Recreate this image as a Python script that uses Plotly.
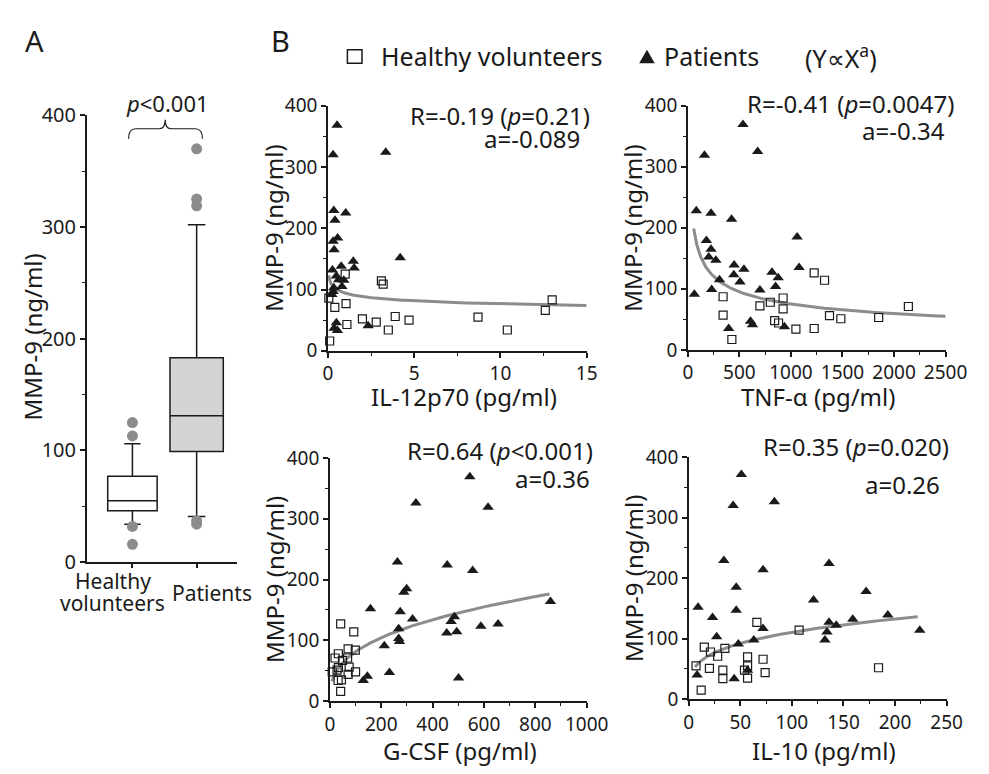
import plotly.graph_objects as go

W, H = 989, 774

# ---- Panel A: box plot summary (MMP-9, ng/ml) ----
box_groups = ["Healthy volunteers", "Patients"]
box_q1 = [46, 99]
box_median = [55, 131]
box_q3 = [77, 183]
box_low = [34, 41]
box_high = [106, 302]
healthy_outliers = [125, 113, 32, 16]
patient_outliers = [370, 325, 319, 37, 34]

# ---- Panel B: scatter data (x = cytokine, y = MMP-9) ----
il12_hv_x = [0.1, 0.05, 0.4, 1.0, 1.05, 1.1, 2.0, 2.8, 3.1, 3.2, 3.5, 3.9, 4.7, 8.7, 10.4, 12.6, 13.0]
il12_hv_y = [16, 86, 71, 125, 77, 43, 52, 47, 114, 109, 34, 56, 50, 55, 34, 66, 83]
il12_pt_x = [0.53, 0.3, 3.35, 0.34, 0.41, 1.03, 0.3, 0.56, 0.36, 4.19, 1.47, 1.52, 0.77,
             0.26, 0.49, 0.62, 0.92, 0.81, 0.34, 0.3, 0.23, 0.49, 0.36, 0.55, 2.33]
il12_pt_y = [368, 320, 324, 229, 213, 225, 179, 184, 165, 152, 146, 135, 138,
             132, 122, 116, 115, 105, 103, 97, 92, 46, 37, 33, 41]

tnf_hv_x = [342, 342, 427, 699, 800, 924, 924, 842, 880, 1048, 1225, 1225, 1326, 1374, 1484, 1851, 2139]
tnf_hv_y = [87, 57, 17, 72, 78, 85, 67, 48, 44, 34, 126, 35, 114, 56, 51, 53, 71]
tnf_pt_x = [63, 82, 161, 180, 203, 225, 225, 231, 272, 307, 449, 446, 506, 544, 424,
            396, 535, 677, 699, 608, 627, 816, 851, 876, 937, 1060, 1079]
tnf_pt_y = [91, 228, 319, 179, 152, 165, 224, 99, 147, 115, 139, 123, 111, 132, 214,
            35, 369, 325, 98, 47, 41, 127, 104, 118, 38, 185, 135]

gcsf_hv_x = [42, 93, 71, 99, 20, 33, 49, 69, 75, 33, 28, 9, 100, 71, 45, 32, 42]
gcsf_hv_y = [127, 114, 86, 84, 71, 78, 67, 71, 56, 55, 51, 48, 48, 44, 35, 34, 16]
gcsf_pt_x = [545, 335, 616, 263, 457, 556, 299, 288, 158, 274, 322, 485, 472,
             588, 655, 268, 268, 271, 455, 494, 859, 212, 232, 146, 130, 501]
gcsf_pt_y = [369, 326, 319, 229, 224, 215, 185, 179, 152, 147, 135, 139, 131,
             123, 127, 119, 103, 98, 112, 114, 164, 91, 47, 41, 34, 38]

il10_hv_x = [7, 12, 15, 21, 20, 28, 33, 33, 35, 57, 57, 54, 57, 66, 72, 74, 107, 184]
il10_hv_y = [55, 15, 86, 78, 51, 71, 48, 34, 84, 70, 55, 48, 35, 127, 66, 44, 114, 52]
il10_pt_x = [51, 43, 83, 34, 72, 136, 46, 9, 46, 23, 121, 172, 193,
             27, 48, 63, 72, 132, 134, 136, 143, 159, 224, 8, 44, 57]
il10_pt_y = [371, 320, 326, 229, 214, 224, 185, 152, 147, 135, 164, 178, 139,
             103, 91, 98, 117, 98, 111, 127, 122, 132, 114, 40, 34, 48]

# power-law fits Y = c * X^a, with the x-range of each drawn curve
fit_a = [-0.089, -0.34, 0.36, 0.26]
fit_c = [94.2, 786, 15.5, 33.4]
fit_xmin = [0.05, 57, 8, 6]
fit_xmax = [15, 2500, 855, 222]

stat_r = ["R=-0.19 (<i>p</i>=0.21)", "R=-0.41 (<i>p</i>=0.0047)",
          "R=0.64 (<i>p</i>&lt;0.001)", "R=0.35 (<i>p</i>=0.020)"]
stat_a = ["a=-0.089", "a=-0.34", "a=0.36", "a=0.26"]
x_titles = ["IL-12p70 (pg/ml)", "TNF-\u03b1 (pg/ml)", "G-CSF (pg/ml)", "IL-10 (pg/ml)"]
x_ranges = [[0, 15], [0, 2500], [0, 1000], [0, 250]]
x_dticks = [5, 500, 200, 50]

FONT = "Noto Sans"
INK = "#1a1a1a"
GREY = "#8c8c8c"


def px(x):
    return x / W


def py(y):
    return 1 - y / H


def axis_style(**kw):
    d = dict(showline=True, linecolor=INK, linewidth=1.5, ticks="outside",
             ticklen=5, tickwidth=1.5, tickcolor=INK, showgrid=False,
             zeroline=False, tickfont=dict(family=FONT, size=19, color=INK))
    d.update(kw)
    return d


fig = go.Figure()

# ---- panel A ----
box_x = [1, 2]
box_fill = ["white", "#d4d4d6"]
box_w = [0.77, 0.83]
for i in range(2):
    fig.add_trace(go.Box(
        x=[box_x[i]], q1=[box_q1[i]], median=[box_median[i]], q3=[box_q3[i]],
        lowerfence=[box_low[i]], upperfence=[box_high[i]],
        fillcolor=box_fill[i], line=dict(color=INK, width=1.5),
        width=box_w[i], whiskerwidth=0.33, boxpoints=False,
        name=box_groups[i], showlegend=False, xaxis="x", yaxis="y"))
fig.add_trace(go.Scatter(
    x=[1] * len(healthy_outliers) + [2] * len(patient_outliers),
    y=healthy_outliers + patient_outliers, mode="markers",
    marker=dict(color=GREY, size=11), showlegend=False, xaxis="x", yaxis="y"))

# ---- panel B ----
panels = [
    (il12_hv_x, il12_hv_y, il12_pt_x, il12_pt_y),
    (tnf_hv_x, tnf_hv_y, tnf_pt_x, tnf_pt_y),
    (gcsf_hv_x, gcsf_hv_y, gcsf_pt_x, gcsf_pt_y),
    (il10_hv_x, il10_hv_y, il10_pt_x, il10_pt_y),
]
for k, (hx, hy, tx, ty) in enumerate(panels):
    xa, ya = "x%d" % (k + 2), "y%d" % (k + 2)
    n = 120
    cx = [fit_xmin[k] * (fit_xmax[k] / fit_xmin[k]) ** (j / (n - 1)) for j in range(n)]
    cy = [fit_c[k] * v ** fit_a[k] for v in cx]
    fig.add_trace(go.Scatter(x=cx, y=cy, mode="lines", line=dict(color=GREY, width=3),
                             showlegend=False, xaxis=xa, yaxis=ya))
    fig.add_trace(go.Scatter(x=hx, y=hy, mode="markers", showlegend=False,
                             marker=dict(symbol="square-open", size=8, color=INK,
                                         line=dict(width=1.2, color=INK)),
                             xaxis=xa, yaxis=ya, cliponaxis=False))
    fig.add_trace(go.Scatter(x=tx, y=ty, mode="markers", showlegend=False,
                             marker=dict(symbol="triangle-up", size=10, color=INK),
                             xaxis=xa, yaxis=ya, cliponaxis=False))

# layout: panel pixel boxes (left, right, top, bottom)
boxes = [(84, 239, 105, 568), (332, 598, 95, 349), (702, 967, 95, 348),
         (334, 598, 460, 712), (703, 968, 459, 710)]

layout = dict(width=W, height=H, margin=dict(l=0, r=0, t=0, b=0),
              paper_bgcolor="white", plot_bgcolor="white", showlegend=False,
              font=dict(family=FONT, color=INK))
for k, (l, r, t, b) in enumerate(boxes):
    sx = "xaxis" if k == 0 else "xaxis%d" % (k + 1)
    sy = "yaxis" if k == 0 else "yaxis%d" % (k + 1)
    yname = "y" if k == 0 else "y%d" % (k + 1)
    xname = "x" if k == 0 else "x%d" % (k + 1)
    if k == 0:
        layout[sx] = axis_style(domain=[px(l), px(r)], anchor=yname, range=[0.288, 2.636],
                                tickvals=box_x, showticklabels=False, ticklen=4)
        layout[sy] = axis_style(domain=[py(b), py(t)], anchor=xname, range=[0, 400],
                                dtick=100, tickfont=dict(family=FONT, size=20, color=INK),
                                minor=dict(ticks="outside", dtick=50, ticklen=3,
                                           tickwidth=1.2, tickcolor=INK, showgrid=False))
    else:
        j = k - 1
        layout[sx] = axis_style(domain=[px(l), px(r)], anchor=yname, range=x_ranges[j],
                                dtick=x_dticks[j],
                                minor=dict(ticks="outside", dtick=x_dticks[j] / 2, ticklen=3,
                                           tickwidth=1.2, tickcolor=INK, showgrid=False))
        layout[sy] = axis_style(domain=[py(b), py(t)], anchor=xname, range=[0, 400],
                                dtick=100,
                                minor=dict(ticks="outside", dtick=50, ticklen=3,
                                           tickwidth=1.2, tickcolor=INK, showgrid=False))
fig.update_layout(**layout)


def note(text, x, y, size, xanchor="center", angle=0):
    fig.add_annotation(text=text, x=px(x), y=py(y), xref="paper", yref="paper",
                       xanchor=xanchor, yanchor="middle", showarrow=False,
                       textangle=angle, font=dict(family=FONT, size=size, color=INK))


note("A", 19, 27, 29, "left")
note("B", 271, 27, 29, "left")

# legend row: open square, filled triangle, texts
fig.add_shape(type="rect", xref="paper", yref="paper", x0=px(352), x1=px(367),
              y0=py(51), y1=py(37), line=dict(color=INK, width=1.5), fillcolor="white")
fig.add_shape(type="path", xref="paper", yref="paper", line=dict(width=0), fillcolor=INK,
              path="M %.5f,%.5f L %.5f,%.5f L %.5f,%.5f Z" % (
                  px(652), py(51), px(668), py(51), px(660), py(37)))
note("Healthy volunteers", 385, 44, 25, "left")
note("Patients", 675, 44, 25, "left")
note("(Y\u221dX<sup>a</sup>)", 820, 44, 25, "left")

# panel A texts
note("<i>p</i>&lt;0.001", 167, 92, 22)
note("MMP-9 (ng/ml)", 28, 335, 24, angle=-90)
note("Healthy", 111, 588, 21)
note("volunteers", 111, 610, 21)
note("Patients", 213, 600, 21)

# brace over the two boxes
fig.add_shape(type="path", xref="x", yref="y", line=dict(color=INK, width=1.2),
              path="M 0.94,379 Q 0.94,388 1.05,388 L 1.42,388 Q 1.51,388 1.51,396 "
                   "Q 1.51,388 1.60,388 L 1.98,388 Q 2.09,388 2.09,379")

# panel B texts
r_pos = [(603, 105), (978, 93), (607, 452), (973, 448)]
a_pos = [(593, 129), (968, 121), (603, 481), (963, 487)]
xt_pos = [(472, 396), (836, 396), (468, 763), (842, 763)]
yt_pos = [(276, 222), (645, 222), (277, 586), (646, 585)]
for k in range(4):
    note(stat_r[k], r_pos[k][0], r_pos[k][1], 24, "right")
    note(stat_a[k], a_pos[k][0], a_pos[k][1], 24, "right")
    note(x_titles[k], xt_pos[k][0], xt_pos[k][1], 24)
    note("MMP-9 (ng/ml)", yt_pos[k][0], yt_pos[k][1], 24, angle=-90)

fig.write_html("out.html", config={"displayModeBar": False},
               post_script="document.body.style.margin='0';")
